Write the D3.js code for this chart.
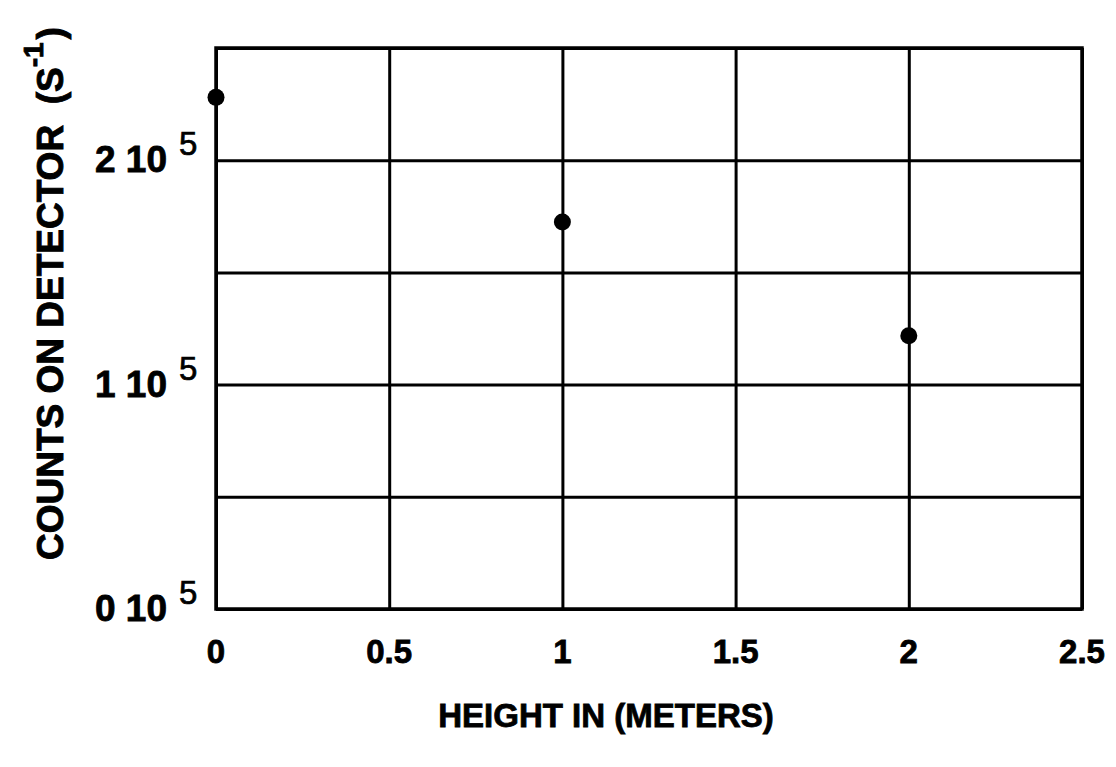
<!DOCTYPE html>
<html>
<head>
<meta charset="utf-8">
<script src="https://cdn.jsdelivr.net/npm/d3@7"></script>
<style>
  body { margin: 0; background: #fff; }
  svg { display: block; }
  text { font-family: "Liberation Sans", Arial, sans-serif; font-weight: bold; fill: #000; }
</style>
</head>
<body>
<svg id="chart" width="1116" height="767"></svg>
<script>
// data
const heights = [0, 1, 2];
const counts = [228000, 172500, 121800];

const xTicks = [0, 0.5, 1, 1.5, 2, 2.5];
const xTickLabels = ["0", "0.5", "1", "1.5", "2", "2.5"];
const yTicks = [0, 50000, 100000, 150000, 200000, 250000];
const yLabelTicks = [0, 100000, 200000];
const yTickLabels = ["0 10", "1 10", "2 10"];

const plotLeft = 216, plotRight = 1082, plotTop = 48, plotBottom = 609;

const svg = d3.select("#chart");

const x = d3.scaleLinear().domain([0, 2.5]).range([plotLeft, plotRight]);
const y = d3.scaleLinear().domain([0, 250000]).range([plotBottom, plotTop]);

// grid lines
svg.append("g")
  .attr("transform", "translate(0," + plotBottom + ")")
  .call(d3.axisBottom(x).tickValues(xTicks).tickSize(-(plotBottom - plotTop)).tickFormat(""))
  .call(g => g.select(".domain").remove())
  .selectAll("line").attr("stroke", "#000").attr("stroke-width", 3);

svg.append("g")
  .attr("transform", "translate(" + plotLeft + ",0)")
  .call(d3.axisLeft(y).tickValues(yTicks).tickSize(-(plotRight - plotLeft)).tickFormat(""))
  .call(g => g.select(".domain").remove())
  .selectAll("line").attr("stroke", "#000").attr("stroke-width", 3);

// frame
svg.append("rect")
  .attr("x", plotLeft).attr("y", plotTop)
  .attr("width", plotRight - plotLeft).attr("height", plotBottom - plotTop)
  .attr("fill", "none").attr("stroke", "#000").attr("stroke-width", 3.5);

// x tick labels
svg.append("g").selectAll("text")
  .data(xTicks)
  .enter()
  .append("text")
  .attr("x", d => x(d))
  .attr("y", plotBottom + 54)
  .attr("text-anchor", "middle")
  .attr("font-size", 33)
  .attr("stroke", "#000").attr("stroke-width", 0.8)
  .text((d, i) => xTickLabels[i]);

// y tick labels with superscript exponent
const yl = svg.append("g").selectAll("text")
  .data(yLabelTicks)
  .enter()
  .append("text")
  .attr("x", 95)
  .attr("y", d => y(d) + 12)
  .attr("font-size", 37)
  .attr("stroke", "#000").attr("stroke-width", 0.8)
  .attr("xml:space", "preserve");
yl.append("tspan").text((d, i) => yTickLabels[i]);
yl.append("tspan")
  .attr("dx", 12)
  .attr("dy", -17)
  .attr("font-size", 33)
  .attr("font-weight", "normal")
  .attr("stroke-width", 0.7)
  .text("5");

// points
svg.append("g").selectAll("circle")
  .data(heights)
  .enter()
  .append("circle")
  .attr("cx", d => x(d))
  .attr("cy", (d, i) => y(counts[i]))
  .attr("r", 8.5)
  .attr("fill", "#000");

// x title
svg.append("text")
  .attr("x", 606)
  .attr("y", 727)
  .attr("text-anchor", "middle")
  .attr("font-size", 33)
  .attr("stroke", "#000").attr("stroke-width", 0.8)
  .text("HEIGHT IN (METERS)");

// y title
const yt = svg.append("text")
  .attr("transform", "translate(63,560) rotate(-90)")
  .attr("font-size", 37)
  .attr("stroke", "#000").attr("stroke-width", 0.9)
  .attr("xml:space", "preserve");
yt.append("tspan").text("COUNTS ON DETECTOR  (S");
yt.append("tspan").attr("dy", -20).attr("font-size", 28).text("-1");
yt.append("tspan").attr("dx", 3).attr("dy", 20).text(")");
</script>
</body>
</html>
